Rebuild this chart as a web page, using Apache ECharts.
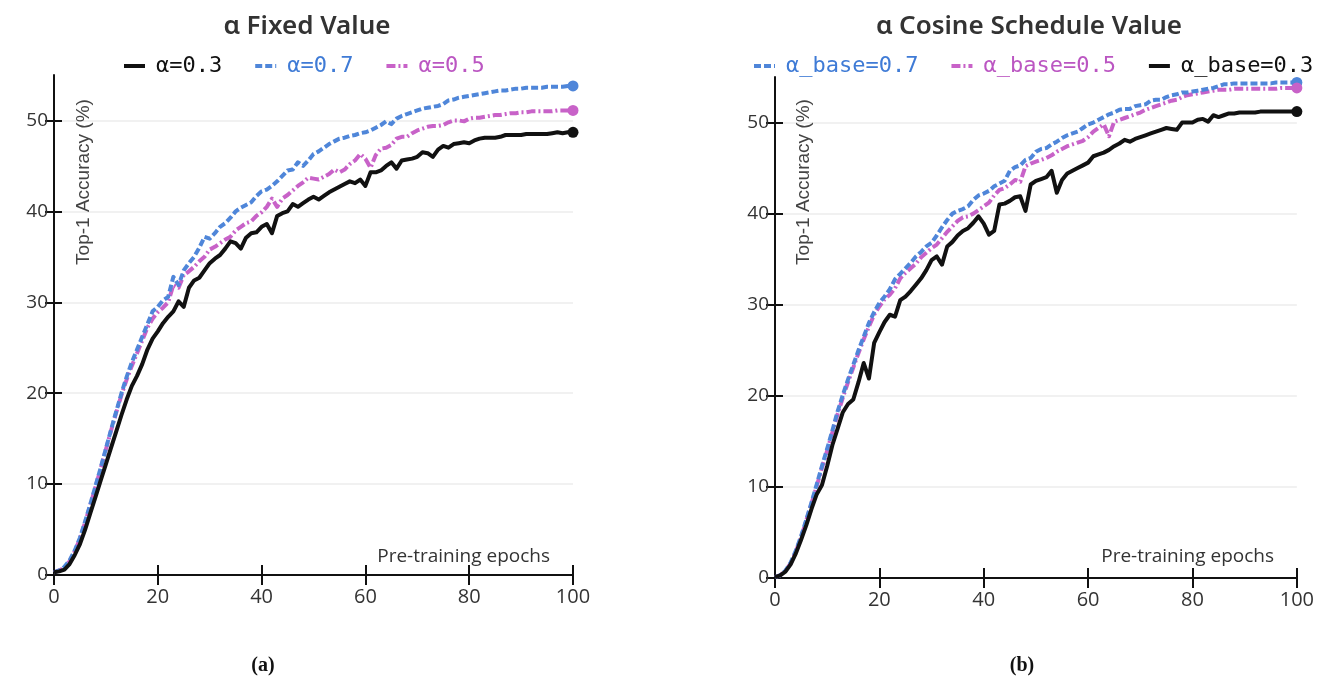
<!DOCTYPE html>
<html><head><meta charset="utf-8">
<script src="https://cdn.jsdelivr.net/npm/echarts@6/dist/echarts.min.js"></script>
<style>html,body{margin:0;padding:0;background:#fff}#c{width:1317px;height:684px}</style>
</head><body><div id="c"></div><script>
const epochs = [0,1,2,3,4,5,6,7,8,9,10,11,12,13,14,15,16,17,18,19,20,21,22,23,24,25,26,27,28,29,30,31,32,33,34,35,36,37,38,39,40,41,42,43,44,45,46,47,48,49,50,51,52,53,54,55,56,57,58,59,60,61,62,63,64,65,66,67,68,69,70,71,72,73,74,75,76,77,78,79,80,81,82,83,84,85,86,87,88,89,90,91,92,93,94,95,96,97,98,99,100];
const xTicks = [0,20,40,60,80,100];
const yTicks = [0,10,20,30,40,50];

// (a) fixed alpha
const fixed03 = [0.3,0.4,0.6,1.2,2.2,3.4,5.0,6.8,8.6,10.4,12.2,14.0,15.8,17.6,19.3,20.8,21.9,23.2,24.8,26.0,26.8,27.7,28.4,29.0,30.1,29.5,31.6,32.4,32.7,33.5,34.3,34.8,35.2,35.9,36.7,36.5,35.9,37.1,37.6,37.7,38.3,38.6,37.6,39.5,39.8,40.0,40.8,40.5,40.9,41.3,41.6,41.3,41.7,42.1,42.4,42.7,43.0,43.3,43.1,43.5,42.8,44.3,44.3,44.5,45.0,45.4,44.7,45.6,45.7,45.8,46.0,46.5,46.4,46.0,46.8,47.2,47.0,47.4,47.5,47.6,47.5,47.8,48.0,48.1,48.1,48.1,48.2,48.4,48.4,48.4,48.4,48.5,48.5,48.5,48.5,48.5,48.6,48.7,48.6,48.7,48.7];
const fixed07 = [0.3,0.5,0.9,1.6,2.7,4.1,5.9,7.8,9.8,11.8,13.9,16.0,18.0,20.0,21.8,23.4,24.8,26.2,27.6,29.0,29.5,30.2,30.6,32.8,31.9,33.5,34.3,35.0,36.0,37.2,37.0,37.6,38.3,38.7,39.3,40.0,40.4,40.7,41.0,41.7,42.2,42.4,42.8,43.3,43.9,44.5,44.6,45.4,45.0,45.6,46.3,46.6,47.0,47.4,47.7,48.0,48.1,48.3,48.4,48.6,48.7,48.9,49.2,49.5,49.9,49.6,50.2,50.5,50.7,50.9,51.1,51.3,51.4,51.5,51.6,51.8,52.2,52.3,52.5,52.6,52.7,52.8,52.9,53.0,53.1,53.2,53.3,53.3,53.4,53.5,53.5,53.6,53.6,53.6,53.6,53.7,53.7,53.7,53.7,53.8,53.8];
const fixed05 = [0.3,0.5,0.8,1.5,2.6,4.0,5.8,7.7,9.7,11.7,13.8,15.9,17.9,19.8,21.5,23.0,24.4,25.8,27.2,28.2,28.9,29.4,30.0,31.9,31.6,33.0,33.4,33.9,34.5,35.0,35.8,36.1,36.5,36.9,37.2,37.9,38.3,38.7,38.9,39.5,39.9,40.5,41.4,40.5,41.4,41.8,42.3,42.8,43.2,43.7,43.6,43.5,43.8,44.1,44.6,44.3,44.6,45.2,45.6,46.3,45.8,44.8,46.2,46.9,47.0,47.3,48.0,48.2,48.2,48.6,48.9,49.1,49.3,49.4,49.4,49.5,49.8,50.0,50.0,49.9,50.2,50.3,50.3,50.4,50.5,50.6,50.6,50.7,50.8,50.8,50.9,50.9,51.0,51.0,51.0,51.0,51.0,51.1,51.1,51.1,51.1];

// (b) cosine schedule alpha
const cos03 = [0.1,0.3,0.7,1.5,2.7,4.2,5.8,7.6,9.2,10.2,12.3,14.6,16.4,18.2,19.1,19.6,21.5,23.6,21.9,25.8,27.0,28.1,28.9,28.7,30.5,30.9,31.5,32.2,32.9,33.8,34.9,35.3,34.4,36.4,36.9,37.6,38.1,38.4,39.0,39.7,38.9,37.7,38.1,41.0,41.1,41.4,41.8,41.9,40.3,43.2,43.6,43.8,44.0,44.7,42.3,43.7,44.4,44.7,45.0,45.3,45.6,46.3,46.5,46.7,47.0,47.4,47.7,48.1,47.9,48.2,48.4,48.6,48.8,49.0,49.2,49.4,49.3,49.2,50.0,50.0,50.0,50.3,50.4,50.1,50.8,50.6,50.8,51.0,51.0,51.1,51.1,51.1,51.1,51.2,51.2,51.2,51.2,51.2,51.2,51.2,51.2];
const cos07 = [0.1,0.3,0.8,1.7,3.0,4.6,6.4,8.3,10.3,12.3,14.2,16.2,18.3,20.1,21.8,23.4,25.0,26.5,28.0,29.2,30.2,30.9,31.7,32.8,33.4,34.0,34.6,35.3,35.8,36.4,36.8,37.6,38.5,39.3,40.0,40.3,40.5,40.8,41.5,42.0,42.2,42.5,43.0,43.3,43.6,44.7,45.1,45.3,45.9,46.1,46.8,47.1,47.2,47.6,47.9,48.3,48.6,48.8,49.0,49.4,49.8,50.0,50.3,50.6,50.9,51.1,51.4,51.5,51.5,51.8,51.9,52.0,52.4,52.5,52.5,52.8,53.0,53.1,53.3,53.3,53.4,53.5,53.6,53.7,53.8,54.0,54.2,54.2,54.3,54.3,54.3,54.3,54.3,54.3,54.3,54.3,54.4,54.4,54.4,54.4,54.4];
const cos05 = [0.1,0.3,0.8,1.6,2.9,4.5,6.3,8.2,10.1,12.1,14.0,16.0,18.0,19.8,21.5,23.1,24.7,26.2,27.6,28.9,29.8,30.6,31.1,31.8,32.9,33.5,34.0,34.5,35.2,35.7,36.2,36.6,37.3,38.0,38.6,39.2,39.6,39.7,40.0,40.4,40.8,41.2,42.0,42.6,42.8,43.2,43.7,43.5,45.2,45.5,45.7,45.9,46.1,46.4,46.8,47.1,47.4,47.6,47.8,48.0,48.4,49.0,49.4,49.8,48.5,50.1,50.3,50.5,50.7,50.9,51.1,51.4,51.6,51.8,52.0,52.2,52.4,52.5,52.8,53.0,53.1,53.2,53.3,53.4,53.5,53.6,53.6,53.6,53.7,53.7,53.7,53.7,53.7,53.7,53.7,53.7,53.7,53.8,53.8,53.8,53.8];

const BLACK = '#111111', BLUE = '#4f86d9', MAGENTA = '#c862c8';
const BLUE_T = '#3f7bd6', MAGENTA_T = '#bb56c2';
const DASH = [7, 3];
const DASHDOT = [9, 3, 2, 3];

function mk(name, vals, color, dash, gi, z) {
  return {
    name: name, type: 'line', xAxisIndex: gi * 2, yAxisIndex: gi * 2,
    symbol: 'none', showSymbol: false, smooth: false, z: z,
    lineStyle: { color: color, width: 4, type: dash, cap: 'butt', join: 'round' },
    itemStyle: { color: color },
    emphasis: { disabled: true },
    data: vals.map(function (v, i) { return [epochs[i], v]; })
  };
}
function endDot(vals, color, gi, z) {
  const last = vals.length - 1;
  return {
    type: 'scatter', xAxisIndex: gi * 2, yAxisIndex: gi * 2, z: z, silent: true,
    symbol: 'circle', symbolSize: 11, itemStyle: { color: color, opacity: 1 },
    emphasis: { disabled: true },
    data: [[epochs[last], vals[last]]]
  };
}

function xAxes(gi) {
  const base = { gridIndex: gi, type: 'value', min: 0, max: 100, interval: 20, position: 'bottom' };
  return [
    Object.assign({}, base, {
      axisLine: { show: true, onZero: false, lineStyle: { color: BLACK, width: 2 } },
      axisTick: { show: true, length: 10, customValues: xTicks, lineStyle: { color: BLACK, width: 2 } },
      axisLabel: { customValues: xTicks, fontSize: 20, color: '#333', fontFamily: 'Open Sans', margin: 12 },
      splitLine: { show: false }
    }),
    Object.assign({}, base, {
      axisLine: { show: false, onZero: false },
      axisTick: { show: true, inside: true, length: 10, customValues: xTicks, lineStyle: { color: BLACK, width: 2 } },
      axisLabel: { show: false }, splitLine: { show: false }
    })
  ];
}
function yAxes(gi) {
  const base = { gridIndex: gi, type: 'value', min: 0, max: 55, interval: 10, position: 'left' };
  return [
    Object.assign({}, base, {
      axisLine: { show: true, onZero: false, lineStyle: { color: BLACK, width: 2 } },
      axisTick: { show: true, length: 9, customValues: yTicks, lineStyle: { color: BLACK, width: 2 } },
      axisLabel: { customValues: yTicks, fontSize: 19, color: '#333', fontFamily: 'Open Sans', margin: 6 },
      splitLine: { show: true, lineStyle: { color: '#ececec', width: 1.5 } }
    }),
    Object.assign({}, base, {
      axisLine: { show: false, onZero: false },
      axisTick: { show: true, inside: true, length: 8, customValues: yTicks, lineStyle: { color: BLACK, width: 2 } },
      axisLabel: { show: false }, splitLine: { show: false }
    })
  ];
}

const legendText = { fontFamily: 'DejaVu Sans Mono', fontSize: 22, padding: [0, 0, 0, 6] };
function leg(names, colors, left) {
  return {
    left: left, top: 55, padding: 0, width: 640, itemWidth: 21, itemHeight: 14, itemGap: 31,
    selectedMode: false,
    itemStyle: { opacity: 0, borderWidth: 0 },
    lineStyle: { width: 4, opacity: 1 },
    textStyle: legendText,
    data: names.map(function (n, i) { return { name: n, textStyle: { color: colors[i] } }; })
  };
}

const titleStyle = { fontFamily: 'Noto Sans', fontWeight: 600, fontSize: 26, color: '#333' };

const option = {
  animation: false,
  backgroundColor: '#fff',
  title: [
    { text: 'ɑ Fixed Value', left: 302, top: 9, textAlign: 'center', textStyle: titleStyle },
    { text: 'ɑ Cosine Schedule Value', left: 1024, top: 9, textAlign: 'center', textStyle: titleStyle }
  ],
  legend: [
    leg(['α=0.3', 'α=0.7', 'α=0.5'], [BLACK, BLUE_T, MAGENTA_T], 122),
    leg(['α_base=0.7', 'α_base=0.5', 'α_base=0.3'], [BLUE_T, MAGENTA_T, BLACK], 752)
  ],
  grid: [
    { left: 54, top: 75, width: 519, height: 500 },
    { left: 775, top: 77, width: 522, height: 501 }
  ],
  xAxis: xAxes(0).concat(xAxes(1)),
  yAxis: yAxes(0).concat(yAxes(1)),
  series: [
    mk('α=0.3', fixed03, BLACK, 'solid', 0, 5),
    mk('α=0.7', fixed07, BLUE, DASH, 0, 4),
    mk('α=0.5', fixed05, MAGENTA, DASHDOT, 0, 3),
    mk('α_base=0.7', cos07, BLUE, DASH, 1, 4),
    mk('α_base=0.5', cos05, MAGENTA, DASHDOT, 1, 3),
    mk('α_base=0.3', cos03, BLACK, 'solid', 1, 5),
    endDot(fixed03, BLACK, 0, 6),
    endDot(fixed07, BLUE, 0, 6),
    endDot(fixed05, MAGENTA, 0, 6),
    endDot(cos07, BLUE, 1, 6),
    endDot(cos05, MAGENTA, 1, 6),
    endDot(cos03, BLACK, 1, 6)
  ],
  graphic: [
    { type: 'text', x: 84, y: 182, rotation: Math.PI / 2, z: 10,
      style: { text: 'Top-1 Accuracy (%)', font: '19px "Liberation Sans"', fill: '#444', align: 'center', verticalAlign: 'middle' } },
    { type: 'text', x: 804, y: 182, rotation: Math.PI / 2, z: 10,
      style: { text: 'Top-1 Accuracy (%)', font: '19px "Liberation Sans"', fill: '#444', align: 'center', verticalAlign: 'middle' } },
    { type: 'text', x: 550, y: 557, z: 10,
      style: { text: 'Pre-training epochs', font: '19px "Open Sans"', fill: '#333', align: 'right', verticalAlign: 'middle' } },
    { type: 'text', x: 1274, y: 557, z: 10,
      style: { text: 'Pre-training epochs', font: '19px "Open Sans"', fill: '#333', align: 'right', verticalAlign: 'middle' } },
    { type: 'text', x: 263, y: 666, z: 10,
      style: { text: '(a)', font: 'bold 20px "Liberation Serif"', fill: '#111', align: 'center', verticalAlign: 'middle' } },
    { type: 'text', x: 1022, y: 666, z: 10,
      style: { text: '(b)', font: 'bold 20px "Liberation Serif"', fill: '#111', align: 'center', verticalAlign: 'middle' } }
  ]
};

const chart = echarts.init(document.getElementById('c'), null, { renderer: 'canvas' });
chart.setOption(option);
</script></body></html>
